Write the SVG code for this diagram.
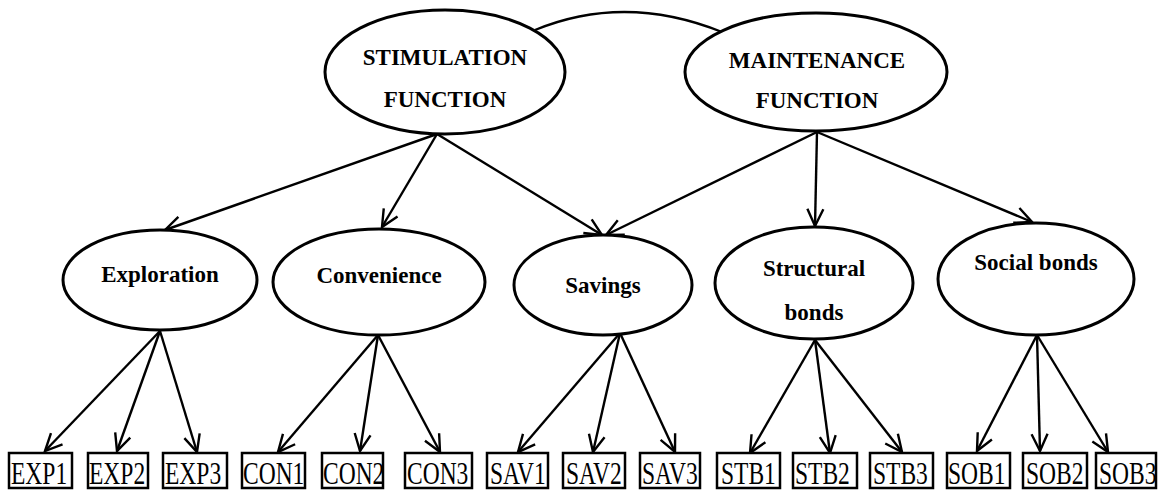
<svg xmlns="http://www.w3.org/2000/svg" width="1161" height="491" viewBox="0 0 1161 491">
<style>
.ell{fill:#fff;stroke:#000;stroke-width:3}
.box{fill:#fff;stroke:#000;stroke-width:2.5}
.lbl{font-family:"Liberation Serif","Times New Roman",serif;font-weight:bold;font-size:23px;fill:#000;text-anchor:middle}
.ind{font-family:"Liberation Serif","Times New Roman",serif;font-size:23.5px;fill:#000}
.con{fill:none;stroke:#000;stroke-width:2.4}
</style>
<defs>
<marker id="ah" markerUnits="userSpaceOnUse" markerWidth="26" markerHeight="26" viewBox="-22 -13 26 26" refX="0" refY="0" orient="auto">
<path d="M-17,-8 L0,0 L-17,8" fill="none" stroke="#000" stroke-width="2.4"/>
</marker>
</defs>
<rect width="1161" height="491" fill="#fff"/>
<g id="connectors">
<path class="con" d="M535,30 Q625,-7 722,32" stroke-width="3"/>
<line class="con" x1="437" y1="134" x2="165" y2="230" marker-end="url(#ah)"/>
<line class="con" x1="437" y1="134" x2="382" y2="227" marker-end="url(#ah)"/>
<line class="con" x1="437" y1="134" x2="602" y2="235" marker-end="url(#ah)"/>
<line class="con" x1="817" y1="132" x2="606" y2="235" marker-end="url(#ah)"/>
<line class="con" x1="817" y1="132" x2="815" y2="226" marker-end="url(#ah)"/>
<line class="con" x1="817" y1="132" x2="1032" y2="222" marker-end="url(#ah)"/>
<line class="con" x1="160" y1="331" x2="45" y2="451" marker-end="url(#ah)"/>
<line class="con" x1="160" y1="331" x2="117" y2="451" marker-end="url(#ah)"/>
<line class="con" x1="160" y1="331" x2="197" y2="452" marker-end="url(#ah)"/>
<line class="con" x1="378" y1="335" x2="278" y2="452" marker-end="url(#ah)"/>
<line class="con" x1="378" y1="335" x2="360" y2="451" marker-end="url(#ah)"/>
<line class="con" x1="378" y1="335" x2="440" y2="452" marker-end="url(#ah)"/>
<line class="con" x1="620" y1="333" x2="518" y2="452" marker-end="url(#ah)"/>
<line class="con" x1="620" y1="333" x2="593" y2="452" marker-end="url(#ah)"/>
<line class="con" x1="620" y1="333" x2="675" y2="452" marker-end="url(#ah)"/>
<line class="con" x1="815" y1="340" x2="750" y2="453" marker-end="url(#ah)"/>
<line class="con" x1="815" y1="340" x2="830" y2="453" marker-end="url(#ah)"/>
<line class="con" x1="815" y1="340" x2="902" y2="452" marker-end="url(#ah)"/>
<line class="con" x1="1037" y1="335" x2="977" y2="451" marker-end="url(#ah)"/>
<line class="con" x1="1037" y1="335" x2="1040" y2="451" marker-end="url(#ah)"/>
<line class="con" x1="1037" y1="335" x2="1108" y2="452" marker-end="url(#ah)"/>
</g>
<g id="stimulation"><ellipse class="ell" cx="445" cy="72" rx="120" ry="62"/><text class="lbl" x="445" y="65">STIMULATION</text><text class="lbl" x="445" y="107">FUNCTION</text></g>
<g id="maintenance"><ellipse class="ell" cx="816" cy="72" rx="131" ry="59"/><text class="lbl" x="817" y="68">MAINTENANCE</text><text class="lbl" x="817" y="108">FUNCTION</text></g>
<g id="exploration"><ellipse class="ell" cx="160" cy="280" rx="97" ry="50"/><text class="lbl" x="160" y="282">Exploration</text></g>
<g id="convenience"><ellipse class="ell" cx="379" cy="282" rx="106" ry="53"/><text class="lbl" x="379" y="283">Convenience</text></g>
<g id="savings"><ellipse class="ell" cx="603" cy="285" rx="89" ry="50"/><text class="lbl" x="603" y="293">Savings</text></g>
<g id="structural"><ellipse class="ell" cx="814" cy="283" rx="99" ry="56"/><text class="lbl" x="814" y="276">Structural</text><text class="lbl" x="814" y="320">bonds</text></g>
<g id="social"><ellipse class="ell" cx="1036" cy="279" rx="98" ry="56"/><text class="lbl" x="1036" y="270">Social bonds</text></g>
<g id="EXP1"><rect class="box" x="9" y="453" width="63" height="35"/><text class="ind" transform="translate(11,484) scale(1,1.3)">EXP1</text></g>
<g id="EXP2"><rect class="box" x="88" y="453" width="60" height="35"/><text class="ind" transform="translate(89,484) scale(1,1.3)">EXP2</text></g>
<g id="EXP3"><rect class="box" x="163" y="453" width="64" height="35"/><text class="ind" transform="translate(165,484) scale(1,1.3)">EXP3</text></g>
<g id="CON1"><rect class="box" x="242" y="453" width="63" height="35"/><text class="ind" transform="translate(243,484) scale(1,1.3)">CON1</text></g>
<g id="CON2"><rect class="box" x="322" y="453" width="61" height="35"/><text class="ind" transform="translate(323,484) scale(1,1.3)">CON2</text></g>
<g id="CON3"><rect class="box" x="405" y="453" width="67" height="35"/><text class="ind" transform="translate(407,484) scale(1,1.3)">CON3</text></g>
<g id="SAV1"><rect class="box" x="487" y="453" width="61" height="35"/><text class="ind" transform="translate(490,484) scale(1,1.3)">SAV1</text></g>
<g id="SAV2"><rect class="box" x="563" y="453" width="62" height="35"/><text class="ind" transform="translate(566,484) scale(1,1.3)">SAV2</text></g>
<g id="SAV3"><rect class="box" x="640" y="453" width="60" height="35"/><text class="ind" transform="translate(642,484) scale(1,1.3)">SAV3</text></g>
<g id="STB1"><rect class="box" x="717" y="453" width="63" height="35"/><text class="ind" transform="translate(721,484) scale(1,1.3)">STB1</text></g>
<g id="STB2"><rect class="box" x="793" y="453" width="64" height="35"/><text class="ind" transform="translate(795,484) scale(1,1.3)">STB2</text></g>
<g id="STB3"><rect class="box" x="870" y="453" width="63" height="35"/><text class="ind" transform="translate(873,484) scale(1,1.3)">STB3</text></g>
<g id="SOB1"><rect class="box" x="947" y="453" width="63" height="35"/><text class="ind" transform="translate(948,484) scale(1,1.3)">SOB1</text></g>
<g id="SOB2"><rect class="box" x="1023" y="453" width="64" height="35"/><text class="ind" transform="translate(1026,484) scale(1,1.3)">SOB2</text></g>
<g id="SOB3"><rect class="box" x="1096" y="453" width="60" height="35"/><text class="ind" transform="translate(1099,484) scale(1,1.3)">SOB3</text></g>
</svg>
